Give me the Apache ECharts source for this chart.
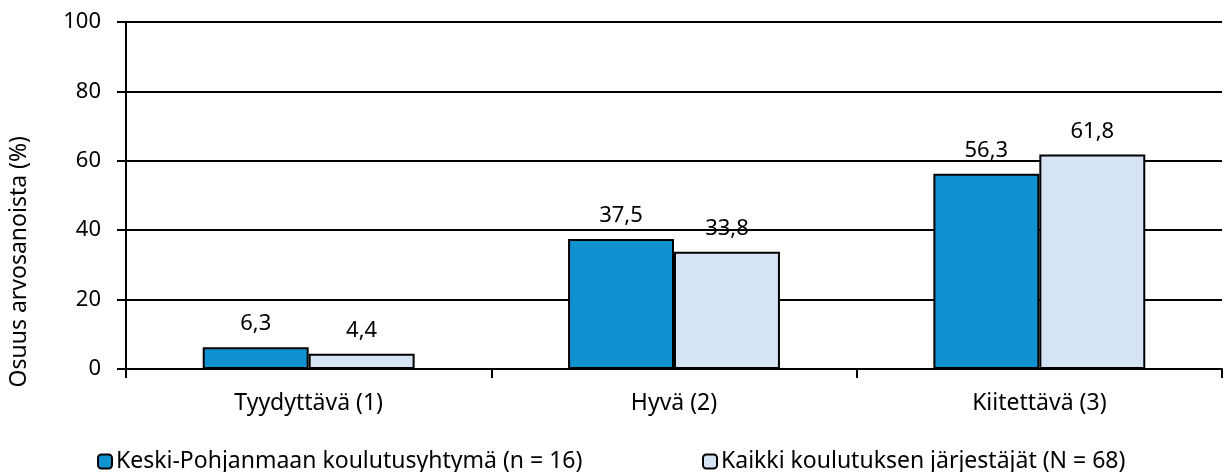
<!DOCTYPE html>
<html>
<head>
<meta charset="utf-8">
<script src="https://cdn.jsdelivr.net/npm/echarts@6/dist/echarts.min.js"></script>
<style>
  html, body { margin: 0; padding: 0; background: #fff; }
  #chart { width: 1224px; height: 472px; }
</style>
</head>
<body>
<div id="chart"></div>
<script>
// arvosanat
var categories = ['Tyydyttävä (1)', 'Hyvä (2)', 'Kiitettävä (3)'];
var seriesNames = ['Keski-Pohjanmaan koulutusyhtymä (n = 16)', 'Kaikki koulutuksen järjestäjät (N = 68)'];
var keskiPohjanmaa = [6.3, 37.5, 56.3];
var kaikki = [4.4, 33.8, 61.8];
var yTicks = [0, 20, 40, 60, 80, 100];

var FONT = '"Noto Sans", sans-serif';
var FS = 22;

var myChart = echarts.init(document.getElementById('chart'));

function fmt(p) {
  return String(p.value).replace('.', ',');
}

myChart.setOption({
  animation: false,
  textStyle: { fontFamily: FONT },
  grid: {
    left: 126,
    right: 2,
    top: 22,
    bottom: 103
  },
  legend: [
    {
      data: [seriesNames[0]],
      left: 92,
      top: 445,
      itemWidth: 14,
      itemHeight: 14,
      itemGap: 0,
      textStyle: { fontFamily: FONT, fontSize: 23, color: '#000', padding: [0, 0, 0, -1] }
    },
    {
      data: [seriesNames[1]],
      left: 697,
      top: 445,
      itemWidth: 14,
      itemHeight: 14,
      itemGap: 0,
      textStyle: { fontFamily: FONT, fontSize: 23, color: '#000', padding: [0, 0, 0, -1] }
    }
  ],
  xAxis: {
    type: 'category',
    data: categories,
    axisLine: { lineStyle: { color: '#000', width: 2 } },
    axisTick: { show: true, length: 9, lineStyle: { color: '#000', width: 2 } },
    axisLabel: { fontFamily: FONT, fontSize: 23, color: '#000', margin: 23 }
  },
  yAxis: {
    type: 'value',
    min: 0,
    max: 100,
    interval: 20,
    axisLine: { show: true, lineStyle: { color: '#000', width: 2 } },
    axisTick: { show: true, length: 9, lineStyle: { color: '#000', width: 2 } },
    axisLabel: {
      fontFamily: FONT, fontSize: FS, color: '#000', margin: 25,
      formatter: function (v) { return yTicks.indexOf(v) >= 0 ? String(v) : ''; }
    },
    splitLine: { show: true, lineStyle: { color: '#000', width: 2 } }
  },
  graphic: [{
    type: 'text',
    left: 8,
    top: 136,
    rotation: Math.PI / 2,
    style: {
      text: 'Osuus arvosanoista (%)',
      font: '23px ' + FONT,
      fill: '#000'
    }
  }],
  series: [
    {
      name: seriesNames[0],
      type: 'bar',
      data: keskiPohjanmaa,
      barGap: '0%',
      barCategoryGap: '42%',
      itemStyle: { color: '#1192D0', borderColor: '#000', borderWidth: 2 },
      label: { show: true, position: 'top', distance: 12, fontFamily: FONT, fontSize: FS, color: '#000', formatter: fmt }
    },
    {
      name: seriesNames[1],
      type: 'bar',
      data: kaikki,
      barGap: '0%',
      barCategoryGap: '42%',
      itemStyle: { color: '#D5E3F5', borderColor: '#000', borderWidth: 2 },
      label: { show: true, position: 'top', distance: 12, fontFamily: FONT, fontSize: FS, color: '#000', formatter: fmt }
    }
  ]
});
</script>
</body>
</html>
